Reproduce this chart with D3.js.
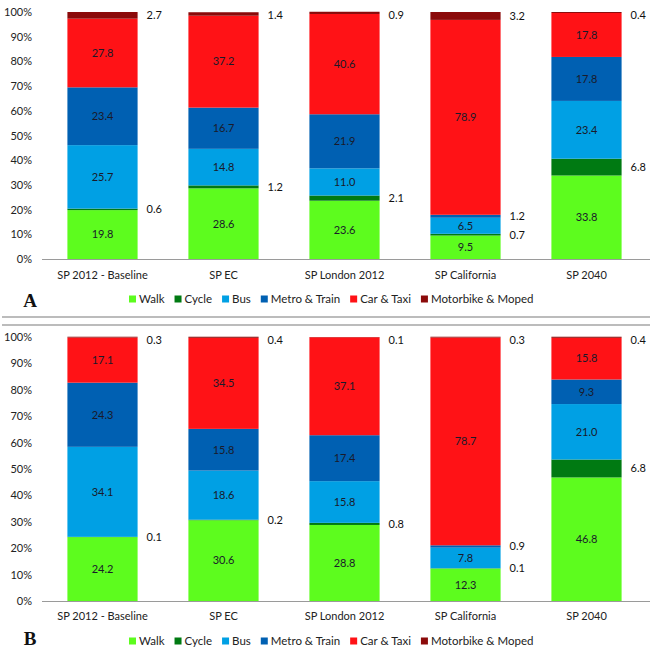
<!DOCTYPE html>
<html>
<head>
<meta charset="utf-8">
<script src="https://cdn.jsdelivr.net/npm/d3@7"></script>
<style>
  html, body { margin: 0; padding: 0; background: #fff; }
  svg { display: block; }
</style>
</head>
<body>
<svg id="chart" width="652" height="654"></svg>
<script>
// ---------- DATA ----------
const categories = ["SP 2012 - Baseline", "SP EC", "SP London 2012", "SP California", "SP 2040"];
const modes = ["Walk", "Cycle", "Bus", "Metro & Train", "Car & Taxi", "Motorbike & Moped"];
const yTicks = [0, 10, 20, 30, 40, 50, 60, 70, 80, 90, 100];

// Panel A
const walkA  = [19.8, 28.6, 23.6, 9.5, 33.8];
const cycleA = [0.6, 1.2, 2.1, 0.7, 6.8];
const busA   = [25.7, 14.8, 11.0, 6.5, 23.4];
const metroA = [23.4, 16.7, 21.9, 1.2, 17.8];
const carA   = [27.8, 37.2, 40.6, 78.9, 17.8];
const motoA  = [2.7, 1.4, 0.9, 3.2, 0.4];

// Panel B
const walkB  = [24.2, 30.6, 28.8, 12.3, 46.8];
const cycleB = [0.1, 0.2, 0.8, 0.1, 6.8];
const busB   = [34.1, 18.6, 15.8, 7.8, 21.0];
const metroB = [24.3, 15.8, 17.4, 0.9, 9.3];
const carB   = [17.1, 34.5, 37.1, 78.7, 15.8];
const motoB  = [0.3, 0.4, 0.1, 0.3, 0.4];

const colors = ["#5dfc1e", "#007a12", "#00a0e4", "#0060b2", "#ff1216", "#8b0a0a"];

// ---------- DRAW ----------
const svg = d3.select("#chart");
const font = "Lato, 'Open Sans', sans-serif";

const x = d3.scaleBand().domain(categories).range([42, 647]).paddingInner(0.42).paddingOuter(0.21);
const color = d3.scaleOrdinal().domain(modes).range(colors);

function drawPanel(series, top, bottom, letter, catY, legendY, letterY) {
  const y = d3.scaleLinear().domain([0, 100]).range([bottom, top]);
  const g = svg.append("g");

  const rows = categories.map((c, i) => {
    const r = { cat: c };
    modes.forEach((m, k) => r[m] = series[k][i]);
    return r;
  });
  const stacked = d3.stack().keys(modes)(rows);

  // y axis labels
  const yAxis = d3.axisLeft(y).tickValues(yTicks).tickFormat(d => d + "%").tickSize(0).tickPadding(0);
  const ya = g.append("g").attr("transform", "translate(32,0)").call(yAxis);
  ya.select(".domain").remove();
  ya.selectAll("text").attr("font-family", font).attr("font-size", 11).attr("fill", "#222");

  // bars
  const layer = g.selectAll("g.layer").data(stacked).join("g")
    .attr("class", "layer").attr("fill", d => color(d.key));
  layer.selectAll("rect").data(d => d).join("rect")
    .attr("x", d => x(d.data.cat))
    .attr("width", x.bandwidth())
    .attr("y", d => y(d[1]))
    .attr("height", d => Math.max(0, y(d[0]) - y(d[1])));

  // baseline axis
  const xa = g.append("g").attr("transform", `translate(0,${bottom})`)
    .call(d3.axisBottom(x).tickSize(0).tickPadding(0));
  xa.select(".domain").remove();
  xa.selectAll("text").remove();
  g.append("line").attr("x1", 42).attr("x2", 650).attr("y1", bottom + 0.5).attr("y2", bottom + 0.5)
    .attr("stroke", "#9a9a9a").attr("stroke-width", 1.2);

  // category labels
  g.selectAll("text.cat").data(categories).join("text")
    .attr("class", "cat")
    .attr("x", d => x(d) + x.bandwidth() / 2)
    .attr("y", catY)
    .attr("dy", "0.35em")
    .attr("text-anchor", "middle")
    .attr("font-family", font).attr("font-size", 11).attr("fill", "#222")
    .text(d => d);

  // value labels
  stacked.forEach((s, k) => {
    s.forEach(d => {
      const v = d[1] - d[0];
      const outside = (k === 1 || k === 5 || v < 3);
      const cy = y((d[0] + d[1]) / 2);
      g.append("text")
        .attr("x", outside ? x(d.data.cat) + x.bandwidth() + 9 : x(d.data.cat) + x.bandwidth() / 2)
        .attr("y", outside && k === 5 ? Math.max(cy, top + 3) : cy)
        .attr("dy", "0.35em")
        .attr("text-anchor", outside ? "start" : "middle")
        .attr("font-family", font).attr("font-size", 11)
        .attr("fill", outside ? "#111" : "#1a1a2a")
        .text(d3.format(".1f")(v));
    });
  });

  // legend
  const leg = g.append("g").attr("transform", `translate(129,${legendY})`);
  let lx = 0;
  modes.forEach((m, k) => {
    leg.append("rect").attr("x", lx).attr("y", -3.5).attr("width", 7).attr("height", 7).attr("fill", colors[k]);
    const t = leg.append("text").attr("x", lx + 10).attr("y", 0).attr("dy", "0.35em")
      .attr("font-family", font).attr("font-size", 11.5).attr("fill", "#222").text(m);
    lx += 10 + t.node().getComputedTextLength() + 10;
  });

  // panel letter
  g.append("text").attr("x", 30).attr("y", letterY).attr("text-anchor", "middle")
    .attr("font-family", "'Liberation Serif', 'DejaVu Serif', serif").attr("font-weight", "bold")
    .attr("font-size", 19).attr("fill", "#111").text(letter);
}

drawPanel([walkA, cycleA, busA, metroA, carA, motoA], 12, 259, "A", 275, 299, 307);
drawPanel([walkB, cycleB, busB, metroB, carB, motoB], 337, 601, "B", 616, 641, 645);

// separator lines
[317, 325].forEach(yy => {
  svg.append("line").attr("x1", 2).attr("x2", 650).attr("y1", yy).attr("y2", yy)
    .attr("stroke", "#a6a6a6").attr("stroke-width", 1.5);
});
</script>
</body>
</html>
